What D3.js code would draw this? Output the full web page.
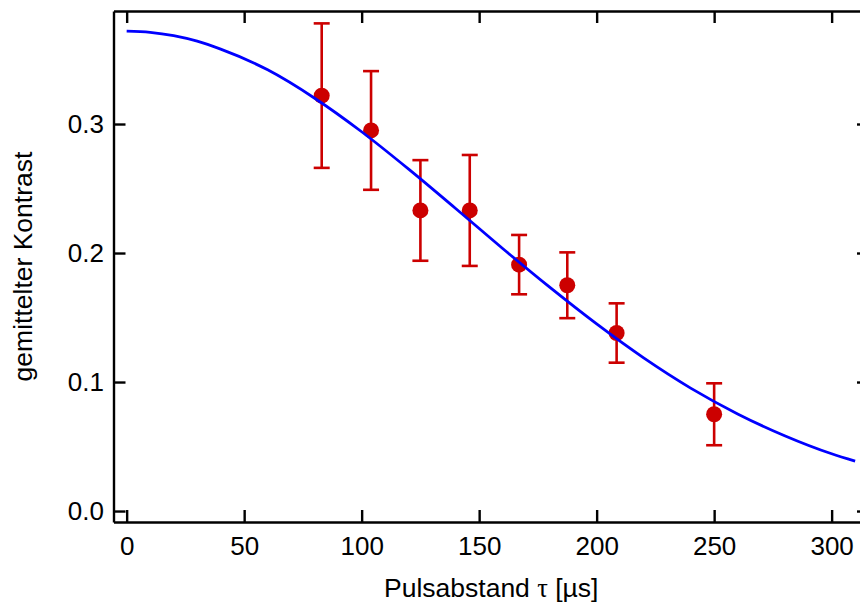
<!DOCTYPE html>
<html>
<head>
<meta charset="utf-8">
<script src="https://cdn.jsdelivr.net/npm/d3@7"></script>
<style>
	body { margin: 0; background: #fff; }
	svg { display: block; overflow: hidden; }
	text { font-family: "Liberation Sans", Arial, sans-serif; }
</style>
</head>
<body>
<svg id="chart" width="860" height="608"></svg>
<script>
	// measured points (pulse spacing in µs, averaged contrast, error)
	const tau = [83, 104, 125, 146, 167, 187.5, 208.5, 250];
	const contrast = [0.322, 0.295, 0.233, 0.233, 0.191, 0.175, 0.138, 0.075];
	const errors = [0.056, 0.046, 0.039, 0.043, 0.023, 0.0255, 0.023, 0.024];

	// fit curve
	const fitTau = [0, 10, 20, 30, 40, 60, 80, 100, 120, 140, 160, 180, 200, 220, 240, 260, 280, 300, 310];
	const fitContrast = [0.372, 0.3711, 0.3685, 0.3642, 0.358, 0.342, 0.320, 0.294, 0.265, 0.2345, 0.2035, 0.1735, 0.145, 0.1187, 0.0953, 0.0753, 0.0584, 0.0444, 0.0387];

	const xTicks = [0, 50, 100, 150, 200, 250, 300];
	const yTicks = [0.0, 0.1, 0.2, 0.3];

	const yLabel = "gemittelter Kontrast";

	window.addEventListener("load", init);

	function init() {
		const svg = d3.select("#chart");
		const left = 113.5, right = 869, top = 11, bottom = 522;

		const x = d3.scaleLinear().domain([-5.6, 315.9]).range([left, right]);
		const y = d3.scaleLinear().domain([-0.0085, 0.3876]).range([bottom, top]);

		drawAxes(svg, x, y, left, right, top, bottom);

		// error bars
		const bars = svg.append("g").attr("stroke", "#cc0000").attr("stroke-width", 2.6);
		tau.forEach(function(t, i) {
			const cx = x(t);
			const y0 = y(contrast[i] - errors[i]);
			const y1 = y(contrast[i] + errors[i]);
			bars.append("line").attr("x1", cx).attr("x2", cx).attr("y1", y0).attr("y2", y1);
			bars.append("line").attr("x1", cx - 8).attr("x2", cx + 8).attr("y1", y0).attr("y2", y0);
			bars.append("line").attr("x1", cx - 8).attr("x2", cx + 8).attr("y1", y1).attr("y2", y1);
		});

		svg.append("g").selectAll("circle")
			.data(tau)
			.join("circle")
			.attr("cx", d => x(d))
			.attr("cy", (d, i) => y(contrast[i]))
			.attr("r", 8)
			.attr("fill", "#cc0000");

		// fit line goes on top of the markers
		const line = d3.line()
			.x(d => x(d[0]))
			.y(d => y(d[1]))
			.curve(d3.curveMonotoneX);

		svg.append("path")
			.datum(fitTau.map((t, i) => [t, fitContrast[i]]))
			.attr("d", line)
			.attr("fill", "none")
			.attr("stroke", "#0000ff")
			.attr("stroke-width", 2.8);

		// x title, the tau is set in a serif face like the original
		const xt = svg.append("text")
			.attr("x", (left + right) / 2)
			.attr("y", 597)
			.attr("text-anchor", "middle")
			.attr("font-size", 26.5);
		xt.append("tspan").text("Pulsabstand ");
		xt.append("tspan").attr("font-family", "'Liberation Serif', 'Times New Roman', serif").text("\u03c4");
		xt.append("tspan").text(" [\u00b5s]");

		svg.append("text")
			.attr("transform", "translate(32," + ((top + bottom) / 2) + ") rotate(-90)")
			.attr("text-anchor", "middle")
			.attr("font-size", 26.5)
			.text(yLabel);
	}

	function drawAxes(svg, x, y, left, right, top, bottom) {
		const fmt = d3.format(".1f");

		const gb = svg.append("g").attr("transform", "translate(0," + bottom + ")")
			.call(d3.axisBottom(x).tickValues(xTicks).tickSize(-12).tickSizeOuter(0).tickPadding(14.5));
		const gt = svg.append("g").attr("transform", "translate(0," + top + ")")
			.call(d3.axisTop(x).tickValues(xTicks).tickSize(-12).tickSizeOuter(0).tickFormat(""));
		const gl = svg.append("g").attr("transform", "translate(" + left + ",0)")
			.call(d3.axisLeft(y).tickValues(yTicks).tickSize(-12).tickSizeOuter(0).tickPadding(9.5).tickFormat(fmt));
		const gr = svg.append("g").attr("transform", "translate(" + right + ",0)")
			.call(d3.axisRight(y).tickValues(yTicks).tickSize(-12).tickSizeOuter(0).tickFormat(""));

		[gb, gt, gl, gr].forEach(function(g) {
			g.selectAll("path, line").attr("stroke", "#000").attr("stroke-width", 2.4);
			g.selectAll("text").attr("font-size", 26).attr("fill", "#000")
				.attr("font-family", "'Liberation Sans', Arial, sans-serif");
		});
	}
</script>
</body>
</html>
